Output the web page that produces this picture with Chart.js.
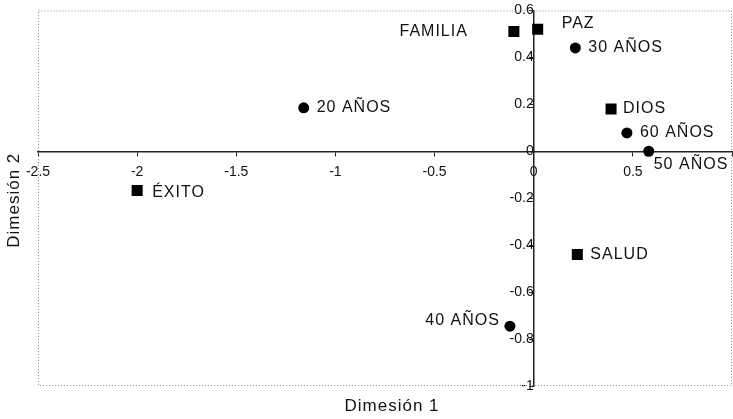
<!DOCTYPE html>
<html>
<head>
<meta charset="utf-8">
<script src="https://cdn.jsdelivr.net/npm/chart.js@4.4.1/dist/chart.umd.min.js"></script>
<style>
  html, body { margin: 0; padding: 0; background: #fff; }
  #wrap { width: 733px; height: 419px; position: relative; }
</style>
</head>
<body>
<div id="wrap"><canvas id="chart"></canvas></div>
<script>
// Edades (círculos)
var ageLabels = ['20 AÑOS', '30 AÑOS', '40 AÑOS', '50 AÑOS', '60 AÑOS'];
var ageDim1 = [-1.16, 0.21, -0.12, 0.58, 0.47];
var ageDim2 = [0.185, 0.44, -0.745, 0.0, 0.078];

// Valores (cuadrados)
var valueLabels = ['FAMILIA', 'PAZ', 'DIOS', 'ÉXITO', 'SALUD'];
var valueDim1 = [-0.10, 0.02, 0.39, -2.0, 0.22];
var valueDim2 = [0.51, 0.52, 0.18, -0.167, -0.44];

// Ejes
var xMin = -2.5, xMax = 1.0, xStep = 0.5;
var yMin = -1.0, yMax = 0.6, yStep = 0.2;
var xTitle = 'Dimesión 1';
var yTitle = 'Dimesión 2';

// label placement (dx, dy, align) per point
var agePlace = [[13, 0, 'left'], [13, 0, 'left'], [-10, -6, 'right'], [5, 13, 'left'], [13, 0, 'left']];
var valuePlace = [[-46, 0, 'right'], [24, -6, 'left'], [12, 0, 'left'], [15, 2, 'left'], [13, 0, 'left']];

function toPoints(xs, ys) {
    return xs.map(function (x, i) { return { x: x, y: ys[i] }; });
}

function fmt(v) {
    var r = Math.round(v * 10) / 10;
    return String(r);
}

var FONT = '"Liberation Sans", Arial, sans-serif';

/* ---- point labels + frame + axis titles ---- */
var decorPlugin = {
    id: 'decor',
    beforeDatasetsDraw: function (chart) {
        var a = chart.chartArea, ctx = chart.ctx;
        ctx.save();
        ctx.strokeStyle = '#8a8a8a';
        ctx.lineWidth = 1;
        ctx.setLineDash([1, 2]);
        ctx.strokeRect(a.left + 0.5, a.top + 0.5, a.right - a.left - 1, a.bottom - a.top - 1);
        ctx.restore();
    },
    afterDatasetsDraw: function (chart) {
        var ctx = chart.ctx;
        var a = chart.chartArea;
        var sets = [[ageLabels, agePlace], [valueLabels, valuePlace]];
        ctx.save();
        ctx.fillStyle = '#111';
        ctx.font = '16px ' + FONT;
        ctx.letterSpacing = '1px';
        ctx.textBaseline = 'middle';
        sets.forEach(function (s, di) {
            var meta = chart.getDatasetMeta(di);
            meta.data.forEach(function (el, i) {
                var p = s[1][i];
                ctx.textAlign = p[2];
                ctx.fillText(s[0][i], el.x + p[0], el.y + p[1]);
            });
        });

        ctx.font = '17px ' + FONT;
        ctx.textAlign = 'center';
        ctx.fillText(xTitle, (a.left + a.right) / 2 + 7, a.bottom + 20);
        ctx.translate(14, (a.top + a.bottom) / 2 + 2);
        ctx.rotate(-Math.PI / 2);
        ctx.fillText(yTitle, 0, 0);
        ctx.restore();
    }
};

var tickFont = { family: FONT, size: 14 };

function noSidePadding(scale) {
    scale.paddingLeft = 0;
    scale.paddingRight = 0;
}

new Chart(document.getElementById('chart'), {
    type: 'scatter',
    data: {
        datasets: [
            {
                label: 'Edad',
                data: toPoints(ageDim1, ageDim2),
                pointStyle: 'circle',
                pointRadius: 5.5,
                backgroundColor: '#000',
                borderColor: '#000',
                borderWidth: 0
            },
            {
                label: 'Valores',
                data: toPoints(valueDim1, valueDim2),
                pointStyle: 'rect',
                pointRadius: 7.8,
                backgroundColor: '#000',
                borderColor: '#000',
                borderWidth: 0
            }
        ]
    },
    options: {
        responsive: true,
        maintainAspectRatio: false,
        animation: false,
        events: [],
        layout: { autoPadding: false, padding: { left: 38, right: 1, top: 10, bottom: 33 } },
        plugins: {
            legend: { display: false },
            tooltip: { enabled: false }
        },
        scales: {
            x: {
                type: 'linear',
                min: xMin,
                max: xMax,
                position: { y: 0 },
                afterFit: noSidePadding,
                border: { display: true, color: '#222', width: 1.5 },
                grid: { drawOnChartArea: false, drawTicks: true, tickLength: 4, color: '#222' },
                ticks: {
                    stepSize: xStep,
                    color: '#111',
                    font: tickFont,
                    padding: 8,
                    maxRotation: 0,
                    autoSkip: false,
                    callback: function (v) { return v >= xMax ? '' : fmt(v); }
                }
            },
            y: {
                type: 'linear',
                min: yMin,
                max: yMax,
                position: { x: 0 },
                border: { display: true, color: '#222', width: 1.5 },
                grid: { drawOnChartArea: false, drawTicks: true, tickLength: 4, color: '#222' },
                ticks: {
                    stepSize: yStep,
                    color: '#111',
                    font: tickFont,
                    padding: 2,
                    autoSkip: false,
                    callback: function (v) { return fmt(v); }
                }
            }
        }
    },
    plugins: [decorPlugin]
});
</script>
</body>
</html>
